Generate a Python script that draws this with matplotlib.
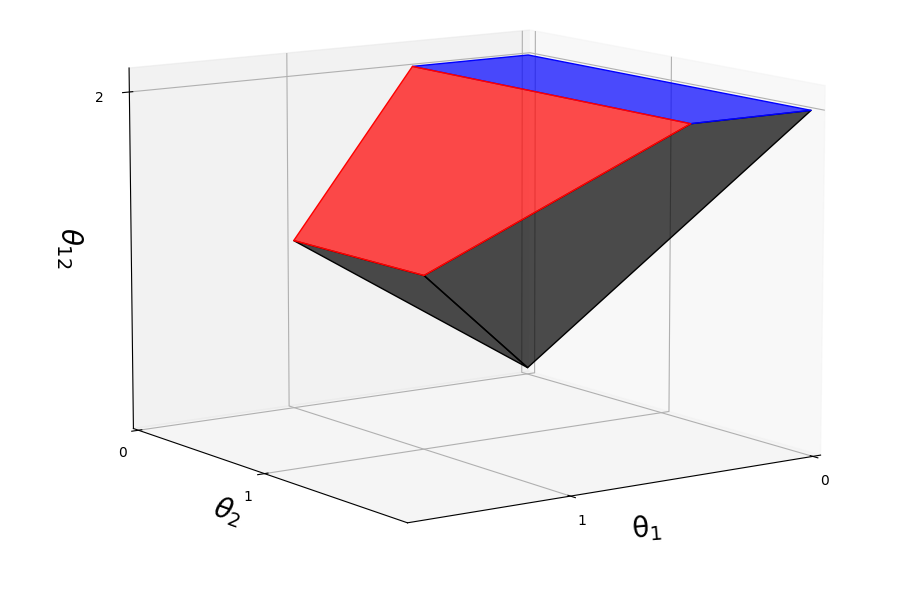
#!/usr/bin/env python3
""" Polytope in (theta1, theta2, theta12) space """

from matplotlib import pyplot as plt
from mpl_toolkits.mplot3d.art3d import Poly3DCollection

# vertices of each face, as (theta1, theta2, theta12)
top_face = [(0, 0, 2), (0, 2, 2), (0.5, 2, 2), (0.5, 0, 2)]
slant_face = [(0.5, 0, 2), (0.5, 2, 2), (1, 1, 1), (1, 0, 1)]
lower_face_1 = [(0, 0, 0), (1, 1, 1), (0.5, 2, 2), (0, 2, 2)]
lower_face_2 = [(0, 0, 0), (1, 0, 1), (1, 1, 1)]

x_ticks = [0, 1]
y_ticks = [0, 1]
z_ticks = [2]

# panes stick out past the limits, like older matplotlib
plt.rcParams['axes3d.automargin'] = True

fig = plt.figure(figsize=(9, 5.95), dpi=100)
ax = fig.add_axes([0.0235, -0.2325, 0.977, 1.548], projection='3d')
# stretch the box over the whole axes rectangle
ax.apply_aspect = lambda position=None: None
ax.set_box_aspect((4, 4, 2.85), zoom=0.868)
ax.view_init(elev=10, azim=55)

faces = [(lower_face_2, (0, 0, 0, 0.7), 'k'),
         (lower_face_1, (0, 0, 0, 0.7), 'k'),
         (top_face, (0, 0, 1, 0.7), 'b'),
         (slant_face, (1, 0, 0, 0.7), 'r')]
for order, (verts, face_col, edge_col) in enumerate(faces):
    poly = Poly3DCollection([verts], facecolors=[face_col],
            edgecolors=[edge_col], linewidths=1.0)
    poly.set_sort_zpos(order)
    ax.add_collection3d(poly)
ax.computed_zorder = False

ax.set_xlim(0, 1.6)
ax.set_ylim(0, 2)
ax.set_zlim(0, 2.1)
ax.set_xticks(x_ticks)
ax.set_yticks(y_ticks)
ax.set_zticks(z_ticks)
ax.tick_params(axis='x', pad=5)
ax.tick_params(axis='y', pad=5)
ax.tick_params(axis='z', pad=7)

ax.xaxis.set_rotate_label(False)
ax.yaxis.set_rotate_label(False)
ax.zaxis.set_rotate_label(False)
ax.set_xlabel(r'θ$_1$', fontsize=20, rotation=5, labelpad=8)
ax.set_ylabel(r'$\theta_2$', fontsize=20, rotation=-20, labelpad=8)
ax.set_zlabel(r'$\theta_{12}$', fontsize=20, rotation=-90, labelpad=10)

plt.savefig('out.png')
